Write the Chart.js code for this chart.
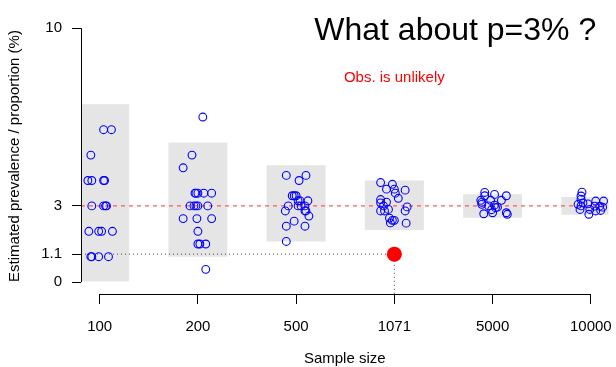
<!DOCTYPE html>
<html>
<head>
<meta charset="utf-8">
<script src="https://cdn.jsdelivr.net/npm/chart.js@4.4.0/dist/chart.umd.min.js"></script>
<style>
  html, body { margin: 0; padding: 0; background: #fff; }
</style>
</head>
<body>
<canvas id="chart" width="616" height="367"></canvas>
<script>
// ─── Data ────────────────────────────────────────────────────────────────
const sampleSizes = ['100', '200', '500', '1071', '5000', '10000'];
const yTickValues = [0, 1.1, 3, 10];
const trueP       = 3;      // hypothesised prevalence (%)
const observedP   = 1.1;    // observed estimate (%)
const observedIdx = 3;      // observed at n = 1071

// grey bands: range of plausible estimates per sample size
const rangeLow  = [0.0, 1.0, 1.6, 2.05, 2.53, 2.65];
const rangeHigh = [7.0, 5.5, 4.6, 4.0, 3.46, 3.35];

// simulated estimates (%) and their horizontal jitter
const est100  = [6, 6, 5, 4, 4, 4, 4, 3, 3, 3, 3, 2, 2, 2, 2, 1, 1, 1, 1];
const jit100  = [0.04, 0.12, -0.09, -0.12, -0.08, 0.04, 0.05, -0.08, 0.04, 0.06, 0.07, -0.11, -0.01, 0.02, 0.13, -0.09, -0.08, -0.01, 0.09];
const est200  = [6.5, 5, 4.5, 3.5, 3.5, 3.5, 3.5, 3.5, 3, 3, 3, 3, 3, 2.5, 2.5, 2.5, 2, 1.5, 1.5, 1.5, 0.5];
const jit200  = [0.05, -0.06, -0.15, -0.03, -0.02, 0, 0.06, 0.14, -0.08, -0.04, -0.02, 0, 0.1, -0.15, -0.01, 0.14, 0, 0, 0.02, 0.08, 0.08];
const est500  = [4.2, 4.2, 4.0, 3.4, 3.4, 3.4, 3.2, 3.2, 3.2, 3.0, 3.0, 3.0, 3.0, 2.8, 2.8, 2.8, 2.6, 2.4, 2.2, 2.2, 1.6];
const jit500  = [-0.1, 0.1, 0.03, -0.04, -0.02, 0, 0.02, 0.04, 0.12, -0.08, 0.02, 0.05, 0.09, -0.11, 0.09, 0.1, 0.13, -0.02, -0.1, 0.09, -0.1];
const est1071 = [3.92, 3.85, 3.66, 3.66, 3.62, 3.5, 3.3, 3.25, 3.12, 3.15, 3.0, 2.96, 2.86, 2.8, 2.8, 2.8, 2.52, 2.43, 2.43, 2.33, 2.32];
const jit1071 = [-0.14, -0.02, -0.08, 0, 0.11, 0.01, 0.04, -0.14, -0.14, -0.08, -0.11, 0.13, -0.06, -0.14, -0.1, 0.11, -0.05, -0.02, 0, -0.04, 0.12];
const est5000 = [3.53, 3.45, 3.4, 3.4, 3.22, 3.22, 3.22, 3.14, 3.06, 3.03, 3.0, 2.95, 2.93, 2.85, 2.73, 2.73, 2.69, 2.67];
const jit5000 = [-0.08, 0.02, 0.14, -0.08, -0.12, -0.02, 0.09, -0.11, -0.11, 0.02, -0.04, 0.05, 0.03, -0.01, 0, 0.14, -0.09, 0.15];
const est10000 = [3.54, 3.39, 3.26, 3.19, 3.19, 3.12, 3.08, 3.06, 3.0, 2.99, 2.99, 2.95, 2.86, 2.86, 2.82, 2.8, 2.67];
const jit10000 = [-0.09, -0.1, -0.1, 0.05, 0.13, -0.08, -0.03, -0.13, -0.1, 0.04, 0.09, 0.12, -0.11, -0.01, 0.1, 0.05, -0.02];

// ─── Layout ──────────────────────────────────────────────────────────────
const X_MIN = -0.19, X_MAX = 5.18;
const Y_MIN = -0.47, Y_MAX = 10.4;
const FONT  = '"Liberation Sans", Arial, Helvetica, sans-serif';

Chart.defaults.font.family = FONT;
Chart.defaults.font.size   = 15;
Chart.defaults.color       = '#000';

const groups = [
    [est100, jit100], [est200, jit200], [est500, jit500],
    [est1071, jit1071], [est5000, jit5000], [est10000, jit10000]
];
const pointData = [];
groups.forEach(([est, jit], i) => {
    est.forEach((v, k) => pointData.push({ x: i + jit[k], y: v }));
});

const bandData = sampleSizes.map((_, i) => ({ x: i, y: [rangeLow[i], rangeHigh[i]] }));

// stop Chart.js from shrinking the plot area for label overhang
function noOverhang(s) {
    s.paddingLeft = 0; s.paddingRight = 0;
    s.paddingTop = 0;  s.paddingBottom = 0;
}

// R-style axis lines (only between first and last tick) + text labels
const rDecor = {
    id: 'rDecor',
    afterDraw(chart) {
        const { ctx, scales: { x, y }, chartArea } = chart;
        ctx.save();
        ctx.strokeStyle = '#000';
        ctx.lineWidth = 1;
        ctx.beginPath();
        const ax = Math.round(chartArea.left) + 0.5;
        ctx.moveTo(ax, y.getPixelForValue(0));
        ctx.lineTo(ax, y.getPixelForValue(10));
        const ay = Math.round(chartArea.bottom) + 0.5;
        ctx.moveTo(x.getPixelForValue(0), ay);
        ctx.lineTo(x.getPixelForValue(sampleSizes.length - 1), ay);
        ctx.stroke();

        ctx.textAlign = 'center';
        ctx.textBaseline = 'middle';
        ctx.fillStyle = '#000';
        ctx.font = '32px ' + FONT;
        ctx.fillText('What about p=3% ?', x.getPixelForValue(3.62), y.getPixelForValue(9.88));
        ctx.fillStyle = '#ff0000';
        ctx.font = '15px ' + FONT;
        ctx.fillText('Obs. is unlikely', x.getPixelForValue(observedIdx), y.getPixelForValue(8.03));
        ctx.restore();
    }
};

new Chart(document.getElementById('chart'), {
    type: 'scatter',
    data: {
        datasets: [
            {
                type: 'bar',
                data: bandData,
                backgroundColor: '#e5e5e5',
                borderWidth: 0,
                barPercentage: 0.6,
                categoryPercentage: 1,
                order: 10
            },
            {
                type: 'line',
                data: [{ x: X_MIN, y: trueP }, { x: X_MAX, y: trueP }],
                borderColor: '#ff5a5a',
                backgroundColor: '#ff5a5a',
                borderWidth: 1.2,
                borderDash: [4, 4],
                pointRadius: 0,
                order: 5
            },
            {
                type: 'line',
                data: [{ x: X_MIN, y: observedP }, { x: observedIdx, y: observedP }, { x: observedIdx, y: Y_MIN }],
                borderColor: '#444',
                borderWidth: 1,
                borderDash: [1, 3],
                pointRadius: 0,
                order: 4
            },
            {
                data: pointData,
                pointRadius: 3.9,
                pointBorderWidth: 1.1,
                pointBorderColor: '#0000ff',
                pointBackgroundColor: 'rgba(0,0,0,0)',
                order: 2
            },
            {
                data: [{ x: observedIdx, y: observedP }],
                pointRadius: 7.5,
                pointBorderWidth: 0,
                pointBackgroundColor: '#ff0000',
                pointBorderColor: '#ff0000',
                order: 1
            }
        ]
    },
    options: {
        responsive: false,
        animation: false,
        layout: { padding: { top: 18, right: 4, left: 0, bottom: 0 } },
        plugins: { legend: { display: false }, tooltip: { enabled: false } },
        scales: {
            x: {
                type: 'linear',
                min: X_MIN,
                max: X_MAX,
                offset: false,
                afterBuildTicks: (s) => { s.ticks = sampleSizes.map((_, i) => ({ value: i })); },
                afterFit: (s) => { s.height = 73; noOverhang(s); },
                ticks: { padding: 14, maxRotation: 0, callback: (v) => sampleSizes[v] },
                grid: { offset: false, drawOnChartArea: false, drawTicks: true, tickLength: 10, color: '#000' },
                border: { display: false },
                title: { display: true, text: 'Sample size', padding: { top: 0, bottom: -1 } }
            },
            y: {
                type: 'linear',
                min: Y_MIN,
                max: Y_MAX,
                afterBuildTicks: (s) => { s.ticks = yTickValues.map(v => ({ value: v })); },
                afterFit: (s) => { s.width = 81; noOverhang(s); },
                ticks: { padding: 10, callback: (v) => String(v) },
                grid: { drawOnChartArea: false, drawTicks: true, tickLength: 9, color: '#000' },
                border: { display: false },
                title: { display: true, text: 'Estimated prevalence / proportion (%)', padding: { top: 6, bottom: 0 } }
            }
        }
    },
    plugins: [rDecor]
});
</script>
</body>
</html>
